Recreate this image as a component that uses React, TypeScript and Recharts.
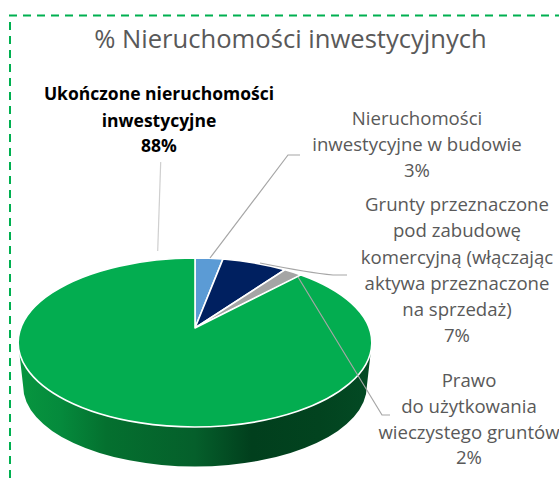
import { Pie, PieChart } from "recharts";

const categories = [
  "Nieruchomości inwestycyjne w budowie",
  "Grunty przeznaczone pod zabudowę komercyjną (włączając aktywa przeznaczone na sprzedaż)",
  "Prawo do użytkowania wieczystego gruntów",
  "Ukończone nieruchomości inwestycyjne",
];
const shares = [3, 7, 2, 88];
const sliceColors = ["#5B9BD5", "#002060", "#A5A5A5", "#03AD50"];

const labelLines = [
  ["Nieruchomości", "inwestycyjne w budowie", "3%"],
  ["Grunty przeznaczone", "pod zabudowę", "komercyjną (włączając", "aktywa przeznaczone", "na sprzedaż)", "7%"],
  ["Prawo", "do użytkowania", "wieczystego gruntów", "2%"],
  ["Ukończone nieruchomości", "inwestycyjne", "88%"],
];

const data = categories.map((name, i) => ({ name, value: shares[i], fill: sliceColors[i] }));

const WIDTH = 559;
const HEIGHT = 479;
const TITLE = "% Nieruchomości inwestycyjnych";
const FONT = "'Open Sans', sans-serif";

// tilted disc: the far side of the pie is foreshortened, so the apex sits above the rim's centre
const TILT = 0.1716;
const SQUASH = 0.4707;
const DEPTH = 40;

// where each label and its leader line goes
const labelBoxes = [
  { x: 417, baselines: [125, 151, 177], leader: "M300,155 L288,155 L210,258", stroke: "#A6A6A6" },
  { x: 457, baselines: [211, 237, 264, 290, 316, 342], leader: "M347,275 L333,275 Q310,273 260,263", stroke: "#A6A6A6" },
  { x: 469, baselines: [387, 413, 439, 464], leader: "M298,277 L382,415 L390,415", stroke: "#A6A6A6" },
  { x: 159, baselines: [100, 127, 152], leader: "M160.7,162 L157.7,251", stroke: "#CFCFCF" },
];

const project = (cx: number, cy: number, r: number, deg: number) => {
  const a = (deg * Math.PI) / 180;
  const u = Math.cos(a);
  const v = -Math.sin(a);
  const d = 1 - TILT * v;
  return { x: cx + (r * u) / d, y: cy + (r * SQUASH * v) / d };
};

const TiltedSlice = (props: any) => {
  const { cx, cy, outerRadius: r, startAngle, endAngle, index, fill } = props;
  const k = 1 - TILT * TILT;
  const rx = r / Math.sqrt(k);
  const ry = (r * SQUASH) / k;
  const rimY = cy + ry * TILT;
  const from = project(cx, cy, r, startAngle);
  const to = project(cx, cy, r, endAngle);
  const large = Math.abs(startAngle - endAngle) > 180 ? 1 : 0;
  const top = `M${cx},${cy} L${from.x},${from.y} A${rx},${ry} 0 ${large} 1 ${to.x},${to.y} Z`;
  const inset = 5;
  const wall =
    `M${cx - rx},${rimY} A${rx},${ry} 0 0 0 ${cx + rx},${rimY} ` +
    `L${cx + rx - inset},${rimY + DEPTH + 4} A${rx - inset},${ry - 4.5} 0 0 1 ${cx - rx + inset},${rimY + DEPTH + 4} Z`;

  return (
    <g>
      {index === data.length - 1 && <path d={wall} fill="url(#wallShade)" />}
      <path d={top} fill={fill} stroke="#fff" strokeWidth={1.6} strokeLinejoin="round" />
    </g>
  );
};

const renderLabel = ({ index }: any) => {
  const box = labelBoxes[index];
  const bold = index === data.length - 1;
  return (
    <g key={index}>
      <path d={box.leader} fill="none" stroke={box.stroke} strokeWidth={1.2} />
      {labelLines[index].map((line, i) => (
        <text
          key={line}
          x={box.x}
          y={box.baselines[i]}
          textAnchor="middle"
          fontFamily={FONT}
          fontSize={bold ? 17.5 : 18.6}
          fontWeight={bold ? 700 : 400}
          fill={bold ? "#000" : "#595959"}
        >
          {line}
        </text>
      ))}
    </g>
  );
};

export default function App() {
  return (
    <div style={{ position: "absolute", left: 0, top: 0, width: WIDTH, height: HEIGHT, background: "#fff" }}>
      <PieChart width={WIDTH} height={HEIGHT} margin={{ top: 0, right: 0, bottom: 0, left: 0 }}>
        <defs>
          <linearGradient id="wallShade" x1="0" y1="0" x2="1" y2="0">
            <stop offset="0%" stopColor="#07963F" />
            <stop offset="12%" stopColor="#058A3C" />
            <stop offset="25%" stopColor="#04702F" />
            <stop offset="50%" stopColor="#055F2B" />
            <stop offset="66%" stopColor="#013F1D" />
            <stop offset="85%" stopColor="#02431F" />
            <stop offset="100%" stopColor="#034A24" />
          </linearGradient>
        </defs>
        <path d={`M9,15.5 H${WIDTH}`} stroke="#00B050" strokeWidth={2} strokeDasharray="8 6" fill="none" />
        <path d={`M10,22 V${HEIGHT}`} stroke="#00B050" strokeWidth={2} strokeDasharray="8 6" fill="none" />
        <text x={290.5} y={47.5} textAnchor="middle" fontFamily={FONT} fontSize={25.6} fill="#595959">
          {TITLE}
        </text>
        <Pie
          data={data}
          dataKey="value"
          nameKey="name"
          cx={195}
          cy={328}
          outerRadius={174.2}
          startAngle={90}
          endAngle={-270}
          stroke="#fff"
          shape={TiltedSlice}
          label={renderLabel}
          labelLine={false}
          isAnimationActive={false}
        />
      </PieChart>
    </div>
  );
}
